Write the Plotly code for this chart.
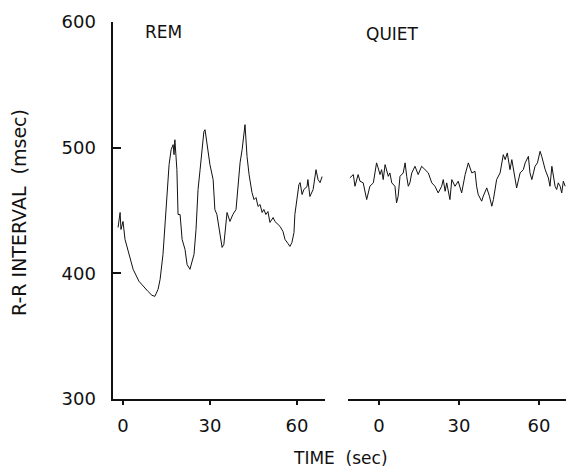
import plotly.graph_objects as go

# REM sleep segment: time (sec) and R-R interval (msec)
rem_t = [-1.7, -1.0, -0.7, 0.0, 0.7, 1.7, 3.5, 5.5, 7.2, 8.6, 10.0, 11.0, 12.1, 12.8, 13.8, 14.5,
         15.2, 15.9, 16.6, 17.3, 17.6, 17.9, 18.6, 19.0, 19.7, 20.4, 21.4, 22.1, 23.1, 23.8, 24.5,
         25.2, 25.9, 26.6, 27.3, 27.9, 28.3, 29.3, 30.0, 31.1, 31.7, 32.4, 33.1, 33.8, 34.2, 34.8,
         35.9, 36.9, 37.9, 39.0, 39.7, 40.4, 41.1, 41.4, 42.1, 42.8, 43.5, 44.5, 45.2, 45.9, 46.6,
         47.3, 48.0, 48.6, 49.3, 50.0, 50.7, 51.8, 52.4, 53.5, 54.2, 55.2, 55.9, 56.9, 57.6, 58.3,
         59.0, 59.3, 60.0, 60.7, 61.1, 61.8, 62.4, 63.5, 63.8, 64.5, 65.6, 66.6, 67.3, 68.0, 68.7]
rem_v = [436.5, 448.4, 434.9, 441.3, 427.0, 419.0, 403.2, 393.7, 388.9, 385.7, 382.5, 381.7, 387.3,
         395.2, 415.1, 438.9, 470.6, 486.5, 498.4, 502.4, 494.4, 506.3, 482.5, 446.8, 446.8, 427.0,
         419.0, 407.1, 403.2, 409.5, 415.1, 434.9, 466.7, 482.5, 502.4, 512.7, 514.3, 498.4, 486.5,
         474.6, 450.8, 446.8, 434.9, 423.0, 420.6, 423.0, 448.4, 441.3, 446.8, 450.8, 470.6, 488.1,
         498.4, 504.0, 518.3, 492.9, 478.6, 464.3, 458.7, 460.3, 453.2, 454.8, 448.4, 450.8, 446.8,
         449.2, 440.5, 444.4, 441.3, 438.9, 437.3, 433.3, 427.0, 423.8, 421.4, 424.6, 432.5, 446.8,
         458.7, 470.6, 472.2, 462.7, 466.7, 469.0, 474.6, 461.1, 466.7, 482.5, 474.6, 472.2, 477.0]

# Quiet sleep segment
quiet_t = [-10.9, -9.6, -9.0, -7.8, -7.1, -5.9, -4.6, -3.4, -2.1, -0.9, -0.3, 0.4, 1.0, 1.6, 2.3,
           2.9, 3.5, 4.1, 4.8, 6.0, 6.6, 7.2, 7.9, 9.1, 9.8, 10.4, 11.0, 11.6, 12.3, 13.5, 14.7,
           16.0, 17.3, 18.5, 19.8, 21.0, 22.2, 23.5, 24.1, 24.8, 25.4, 26.6, 27.3, 28.5, 29.7,
           31.0, 32.3, 33.5, 34.8, 36.0, 36.6, 37.2, 38.5, 39.1, 40.4, 41.4, 42.3, 42.9, 44.1,
           45.4, 46.6, 47.3, 48.1, 49.1, 49.8, 51.0, 51.6, 52.9, 54.1, 54.8, 56.0, 56.6, 57.3,
           57.9, 58.5, 59.4, 60.4, 61.0, 62.3, 63.5, 64.1, 64.8, 65.4, 66.0, 66.6, 67.2, 67.9,
           68.5, 69.1, 69.8]
quiet_v = [476.0, 478.6, 469.3, 478.6, 473.3, 472.0, 458.7, 469.3, 472.0, 487.9, 483.9, 478.6, 482.5,
           474.6, 486.5, 482.5, 477.2, 479.9, 472.0, 469.3, 456.1, 461.4, 477.2, 479.9, 487.9, 477.2,
           469.3, 472.0, 479.9, 485.2, 478.6, 485.2, 482.5, 479.9, 472.0, 469.3, 464.0, 469.3, 474.6,
           465.3, 472.0, 458.7, 474.6, 469.3, 473.3,
           464.0, 478.6, 487.9, 479.9, 481.2, 469.3, 462.7, 457.4, 461.4, 468.0, 461.4, 453.4, 458.7,
           474.6, 479.9, 494.4, 490.5, 495.8, 482.5, 490.5, 477.2, 468.0, 479.9, 482.5, 487.9, 493.1,
           479.9, 474.6, 479.9, 485.2, 487.9, 497.1, 493.1, 482.5, 475.9, 469.3, 485.2, 477.2, 469.3,
           466.7, 472.0, 469.3, 464.0, 473.3, 469.3]

x_ticks = [0, 30, 60]
y_ticks = [300, 400, 500, 600]

W, H = 566, 469
FONT = "DejaVu Sans"
INK = "#111111"

def px(x):
    return x / W

def py(y):
    return (H - y) / H

fig = go.Figure()
fig.add_trace(go.Scatter(x=rem_t, y=rem_v, mode="lines", xaxis="x", yaxis="y",
                         line=dict(color=INK, width=1.0), showlegend=False, hoverinfo="skip"))
fig.add_trace(go.Scatter(x=quiet_t, y=quiet_v, mode="lines", xaxis="x2", yaxis="y",
                         line=dict(color=INK, width=1.0), showlegend=False, hoverinfo="skip"))

ydom = [py(399), py(22)]
common_x = dict(showgrid=False, zeroline=False, showline=True, linecolor=INK, linewidth=2,
                automargin=False,
                tickmode="array", tickvals=x_ticks, ticktext=[str(v) for v in x_ticks],
                ticks="outside", ticklen=4, tickwidth=2, tickcolor=INK,
                tickfont=dict(family=FONT, size=18, color=INK), ticklabelstandoff=5)
rem_range = [-3.45, 69.7]
quiet_range = [-11.6, 70.1]
inner_ticks = dict(showgrid=False, zeroline=False, showline=False, automargin=False,
                   tickmode="array", tickvals=x_ticks, ticks="inside", ticklen=6,
                   tickwidth=2, tickcolor=INK, showticklabels=False, anchor="y")
fig.update_layout(
    width=W, height=H, margin=dict(l=0, r=0, t=0, b=0, autoexpand=False),
    paper_bgcolor="white", plot_bgcolor="white",
    xaxis=dict(domain=[px(113), px(325)], range=rem_range, anchor="y", **common_x),
    xaxis2=dict(domain=[px(348), px(566)], range=quiet_range, anchor="y", **common_x),
    xaxis3=dict(overlaying="x", range=rem_range, **inner_ticks),
    xaxis4=dict(overlaying="x2", range=quiet_range, **inner_ticks),
    yaxis=dict(domain=ydom, range=[300, 600], anchor="x", showgrid=False, zeroline=False,
               automargin=False, showline=True, linecolor=INK, linewidth=2.5,
               tickmode="array", tickvals=y_ticks, ticktext=[str(v) for v in y_ticks],
               ticks="inside", ticklen=8, tickwidth=2, tickcolor=INK,
               tickfont=dict(family=FONT, size=18, color=INK), ticklabelstandoff=11),
    annotations=[
        dict(text="REM", x=px(143), y=py(32), xref="paper", yref="paper", xanchor="left",
             yanchor="middle", showarrow=False, font=dict(family=FONT, size=17, color=INK)),
        dict(text="QUIET", x=px(364), y=py(34), xref="paper", yref="paper", xanchor="left",
             yanchor="middle", showarrow=False, font=dict(family=FONT, size=17, color=INK)),
        dict(text="TIME  (sec)", x=px(340), y=py(458), xref="paper", yref="paper", xanchor="center",
             yanchor="middle", showarrow=False, font=dict(family=FONT, size=17, color=INK)),
        dict(text="R-R INTERVAL  (msec)", x=px(19), y=py(213), xref="paper", yref="paper",
             xanchor="center", yanchor="middle", textangle=-90, showarrow=False,
             font=dict(family=FONT, size=19, color=INK)),
    ],
)

fig.write_html(
    "out.html",
    config={"displayModeBar": False, "staticPlot": True},
    post_script="document.body.style.margin='0px';document.body.style.overflow='hidden';",
)
